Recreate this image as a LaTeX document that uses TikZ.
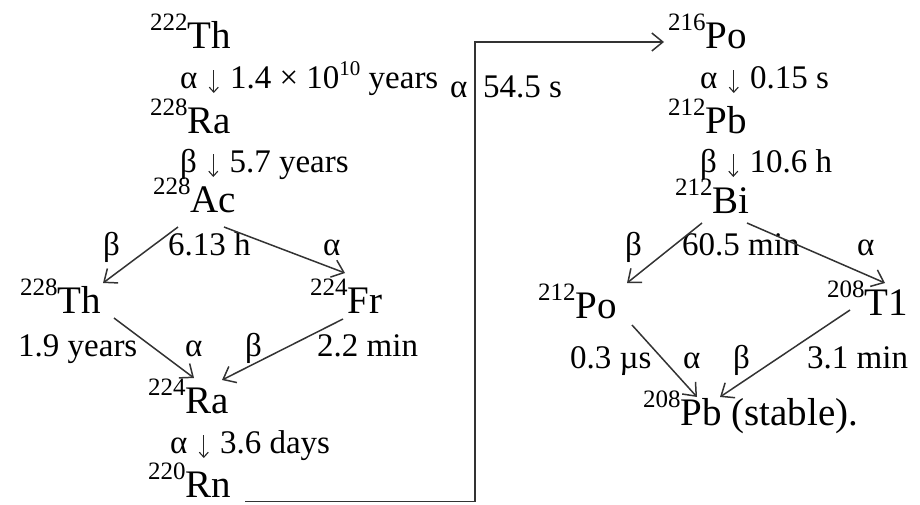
\documentclass[tikz,border=0pt]{standalone}
\usepackage{fontspec}
\setmainfont{Liberation Serif}
\usetikzlibrary{arrows.meta,calc}
\newcommand\isot[2]{\raisebox{18pt}{\fontsize{25}{25}\selectfont #1}#2}
\newcommand\supten[1]{\raisebox{13pt}{\fontsize{21}{21}\selectfont #1}}
\newcommand\dn{\hspace{3pt}\tikz[baseline=0pt]\draw[black!85,line width=1.1pt,-{Straight Barb[length=5pt,width=9pt,line width=1.1pt]}] (0pt,18pt) -- (0pt,-5pt);\hspace{3pt}}
\tikzset{
  iso/.style={inner sep=0pt, anchor=base west, font=\fontsize{39}{39}\selectfont},
  lbl/.style={inner sep=0pt, anchor=base west, font=\fontsize{33}{33}\selectfont},
  decay/.style={draw=black!80, line width=1.5pt, -{Straight Barb[length=11pt,width=18pt,line width=1.5pt]}},
}
\begin{document}
\begin{tikzpicture}[x=1pt,y=-1pt]
\useasboundingbox (0,0) rectangle (920,504);
% left chain
\node[iso] (th222) at (150,48) {\isot{222}{Th}};
\node[lbl] (l1) at (180,88) {α \dn\ 1.4 × 10\supten{10} years};
\node[iso] (ra228) at (150,133) {\isot{228}{Ra}};
\node[lbl] (l2) at (180,172) {β \dn\ 5.7 years};
\node[iso] (ac228) at (153,212) {\isot{228}{Ac}};
\node[lbl] (lb1) at (103,255) {β};
\node[lbl] (lt1) at (168,255) {6.13 h};
\node[lbl] (la1) at (323,255) {α};
\node[iso] (th228) at (20,313) {\isot{228}{Th}};
\node[iso] (fr224) at (310,313) {\isot{224}{Fr}};
\node[lbl] (ly) at (18,356) {1.9 years};
\node[lbl] (la2) at (185,356) {α};
\node[lbl] (lb2) at (245,356) {β};
\node[lbl] (lm2) at (317,356) {2.2 min};
\node[iso] (ra224) at (148,413) {\isot{224}{Ra}};
\node[lbl] (l3) at (170,453) {α \dn\ 3.6 days};
\node[iso] (rn220) at (148,497) {\isot{220}{Rn}};
% link
\node[lbl] (la3) at (450,97) {α};
\node[lbl] (lt3) at (483,97) {54.5 s};
% right chain
\node[iso] (po216) at (668,48) {\isot{216}{Po}};
\node[lbl] (l4) at (700,88) {α \dn\ 0.15 s};
\node[iso] (pb212) at (668,133) {\isot{212}{Pb}};
\node[lbl] (l5) at (700,172) {β \dn\ 10.6 h};
\node[iso] (bi212) at (675,213) {\isot{212}{Bi}};
\node[lbl] (lb4) at (625,255) {β};
\node[lbl] (lt4) at (682,255) {60.5 min};
\node[lbl] (la4) at (857,255) {α};
\node[iso] (po212) at (538,318) {\isot{212}{Po}};
\node[iso] (tl208) at (827,315) {\isot{208}{T1}};
\node[lbl] (l6) at (570,368) {0.3 µs};
\node[lbl] (la5) at (683,368) {α};
\node[lbl] (lb5) at (733,368) {β};
\node[lbl] (lm5) at (807,368) {3.1 min};
\node[iso] (pb208) at (643,425) {\isot{208}{Pb} (stable).};
% connectors
\draw[decay] ($(ac228.base west)+(25,15)$) -- ($(th228.base west)+(83,-30)$);
\draw[decay] ($(ac228.base west)+(71,15)$) -- ($(fr224.base west)+(35,-40)$);
\draw[decay] ($(th228.base west)+(94,5)$) -- ($(ra224.base west)+(46,-35)$);
\draw[decay] ($(fr224.base west)+(33,6)$) -- ($(ra224.base west)+(74,-33)$);
\coordinate (bend) at (475,42);
\draw[decay] ($(rn220.base west)+(97,4.5)$) -| (bend) -- ($(po216.base west)+(-4,-6)$);
\draw[decay] ($(bi212.base west)+(27,10)$) -- ($(po212.base west)+(89,-35)$);
\draw[decay] ($(bi212.base west)+(72,10)$) -- ($(tl208.base west)+(58,-32)$);
\draw[decay] ($(po212.base west)+(94,7)$) -- ($(pb208.base west)+(54,-28)$);
\draw[decay] ($(tl208.base west)+(23,-5)$) -- ($(pb208.base west)+(77,-28)$);
\end{tikzpicture}
\end{document}
